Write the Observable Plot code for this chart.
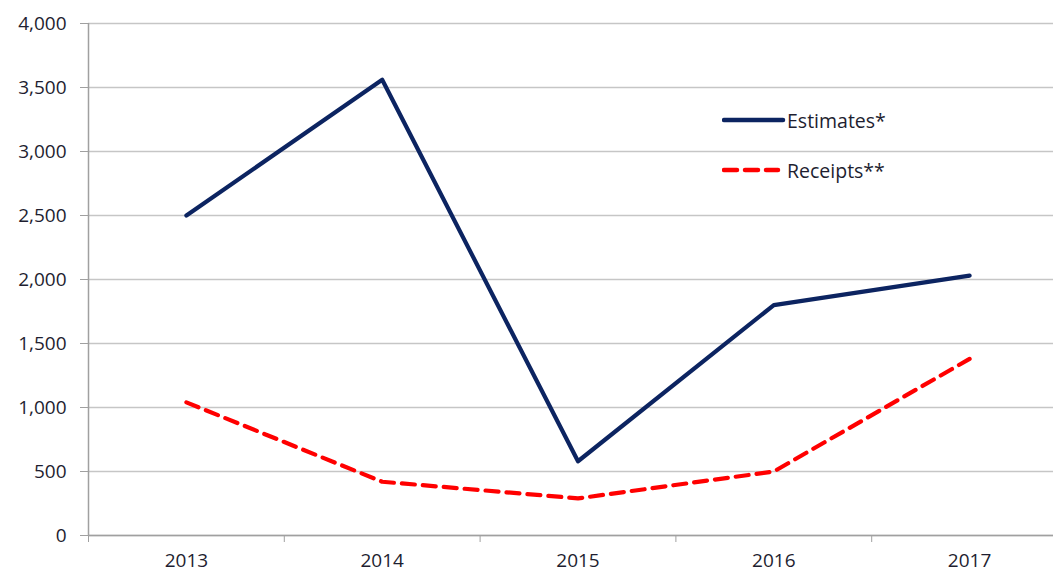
<!DOCTYPE html>
<html>
<head>
<meta charset="utf-8">
<script src="https://cdn.jsdelivr.net/npm/d3@7"></script>
<script src="https://cdn.jsdelivr.net/npm/@observablehq/plot@0.6"></script>
<style>
  html, body { margin: 0; padding: 0; background: #fff; overflow: hidden; }
  #wrap { position: relative; width: 1053px; height: 574px; }
  #legend { position: absolute; left: 722px; top: 105px; font-family: "Open Sans", sans-serif; font-size: 19.5px; color: #1e1e30; }
  #legend .row { display: flex; align-items: center; height: 30px; margin-bottom: 20px; }
  #legend svg { margin-right: 1px; }
</style>
</head>
<body>
<div id="wrap"><div id="chart"></div><div id="legend"></div></div>
<script>
const years = [2013, 2014, 2015, 2016, 2017];
const estimates = [2500, 3560, 580, 1800, 2030];
const receipts = [1040, 420, 290, 500, 1380];
const yTicks = [0, 500, 1000, 1500, 2000, 2500, 3000, 3500, 4000];
const seriesNames = ["Estimates*", "Receipts**"];
const seriesColors = ["#0c2461", "#ff0000"];

const boundaries = years.map(y => y - 0.5).concat([years[years.length - 1] + 0.5]);
const estData = years.map((y, i) => ({year: y, value: estimates[i]}));
const recData = years.map((y, i) => ({year: y, value: receipts[i]}));

const chart = Plot.plot({
  width: 1053,
  height: 574,
  marginTop: 23,
  marginBottom: 39,
  marginLeft: 88,
  marginRight: 0,
  style: {fontFamily: "Open Sans, sans-serif", fontSize: "19px", color: "#1e1e30", background: "#fff"},
  x: {type: "linear", domain: [boundaries[0], boundaries[boundaries.length - 1]], range: [88, 1067]},
  y: {domain: [0, 4000]},
  marks: [
    Plot.gridY(yTicks, {stroke: "#c6c6c6", strokeOpacity: 1, strokeWidth: 1.3}),
    Plot.ruleY([0], {stroke: "#a0a0a0", strokeWidth: 1.5}),
    Plot.ruleX([boundaries[0]], {stroke: "#a0a0a0", strokeWidth: 1.5}),
    Plot.axisY(yTicks, {tickSize: 8, tickPadding: 14, stroke: "#a0a0a0", tickFormat: d3.format(","), label: null, fill: "#1e1e30"}),
    Plot.axisX(boundaries, {tickSize: 7, tickFormat: () => "", stroke: "#a0a0a0", label: null}),
    Plot.axisX(years, {tickSize: 0, tickPadding: 18, tickFormat: d => String(d), label: null, fill: "#1e1e30"}),
    Plot.line(estData, {x: "year", y: "value", stroke: seriesColors[0], strokeWidth: 4.2}),
    Plot.line(recData, {x: "year", y: "value", stroke: seriesColors[1], strokeWidth: 4.2, strokeDasharray: "13,8"})
  ]
});
document.getElementById("chart").appendChild(chart);

const legend = document.getElementById("legend");
seriesNames.forEach((name, i) => {
  const row = document.createElement("div");
  row.className = "row";
  const dash = i === 1 ? ' stroke-dasharray="13,8"' : '';
  const len = i === 1 ? 56 : 61;
  row.innerHTML = `<svg width="64" height="10"><line x1="2" y1="5" x2="${len}" y2="5" stroke="${seriesColors[i]}" stroke-width="4.5"${dash} stroke-linecap="round"/></svg><span>${name}</span>`;
  legend.appendChild(row);
});
</script>
</body>
</html>
